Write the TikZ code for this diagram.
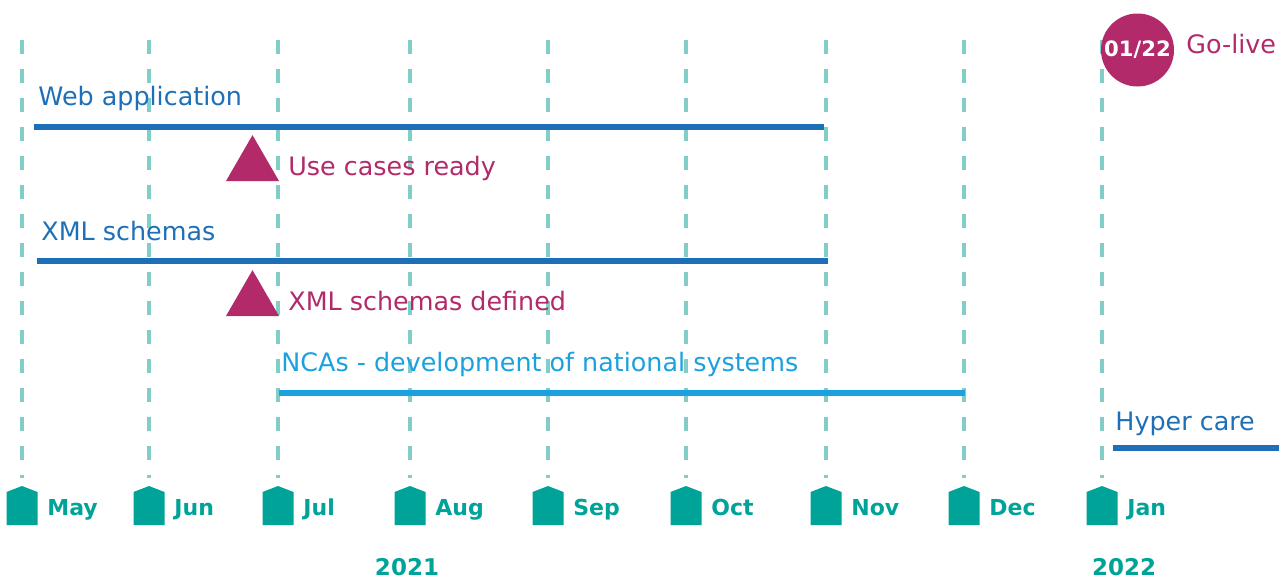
\documentclass[tikz,border=0pt]{standalone}
\usepackage{fontspec}
\setmainfont{DejaVu Sans}
\usetikzlibrary{positioning,shapes.geometric}
\definecolor{gridteal}{RGB}{128,206,199}
\definecolor{markteal}{RGB}{0,163,152}
\definecolor{barblue}{RGB}{29,112,183}
\definecolor{lightblue}{RGB}{27,161,222}
\definecolor{berry}{RGB}{178,42,106}
\tikzset{
  gridline/.style={gridteal, line width=2pt, dash pattern=on 7pt off 7.5pt},
  monthlabel/.style={font=\fontsize{11}{13}\selectfont\bfseries, text=markteal, inner sep=0pt, anchor=base west},
  yearlabel/.style={font=\fontsize{11.5}{13}\selectfont\bfseries, text=markteal, inner sep=0pt, anchor=base},
  bartext/.style={font=\fontsize{12.7}{15}\selectfont, text=barblue, inner sep=0pt, anchor=base west},
  ncatext/.style={bartext, text=lightblue},
  miletext/.style={bartext, text=berry},
  bar/.style={barblue, line width=3pt},
  ncabar/.style={lightblue, line width=3pt},
  milestone/.style={regular polygon, regular polygon sides=3, fill=berry, inner sep=0pt, minimum size=30.6pt},
  golivedot/.style={circle, fill=berry, inner sep=0pt, minimum size=36.5pt,
                    font=\fontsize{10.6}{13}\selectfont\bfseries, text=white},
}
\begin{document}
\begin{tikzpicture}[x=0.5pt, y=-0.5pt]
\useasboundingbox (0,0) rectangle (1284,580);

% month grid and markers
\foreach \x/\m in {22/May, 149/Jun, 278/Jul, 410/Aug, 548/Sep, 686/Oct, 826/Nov, 964/Dec, 1102/Jan}{
  \draw[gridline] (\x,40) -- (\x,478);
  \fill[markteal] (\x-15.5,525) -- (\x-15.5,492) -- (\x,486) -- (\x+15.5,492) -- (\x+15.5,525) -- cycle;
  \node[monthlabel] (m\m) at (\x+25,515) {\m};
}
\node[yearlabel] (y2021) at (407,575) {2021};
\node[yearlabel] (y2022) at (1124,575) {2022};

% go-live
\node[golivedot] (golive) at (1137.5,50) {01/22};
\node[miletext] (golivetext) at (1186,53) {Go-live};

% web application
\node[bartext] (web) at (38,105) {Web application};
\coordinate (webA) at (34,127);
\coordinate (webB) at (824,127);
\draw[bar] (webA) -- (webB);
\node[milestone] (usecases) at (252.5,165.7) {};
\node[miletext] (usecasestext) at (288,175) {Use cases ready};

% xml schemas
\node[bartext] (xml) at (41,240) {XML schemas};
\coordinate (xmlA) at (37,261);
\coordinate (xmlB) at (828,261);
\draw[bar] (xmlA) -- (xmlB);
\node[milestone] (schemas) at (252.5,300.7) {};
\node[miletext] (schemastext) at (288,310) {XML schemas defined};

% national systems
\node[ncatext] (nca) at (281,371) {NCAs - development of national systems};
\coordinate (ncaA) at (279,393);
\coordinate (ncaB) at (965,393);
\draw[ncabar] (ncaA) -- (ncaB);

% hyper care
\node[bartext] (hyper) at (1115,430) {Hyper care};
\coordinate (hyperA) at (1113,448);
\coordinate (hyperB) at (1279,448);
\draw[bar] (hyperA) -- (hyperB);
\end{tikzpicture}
\end{document}
